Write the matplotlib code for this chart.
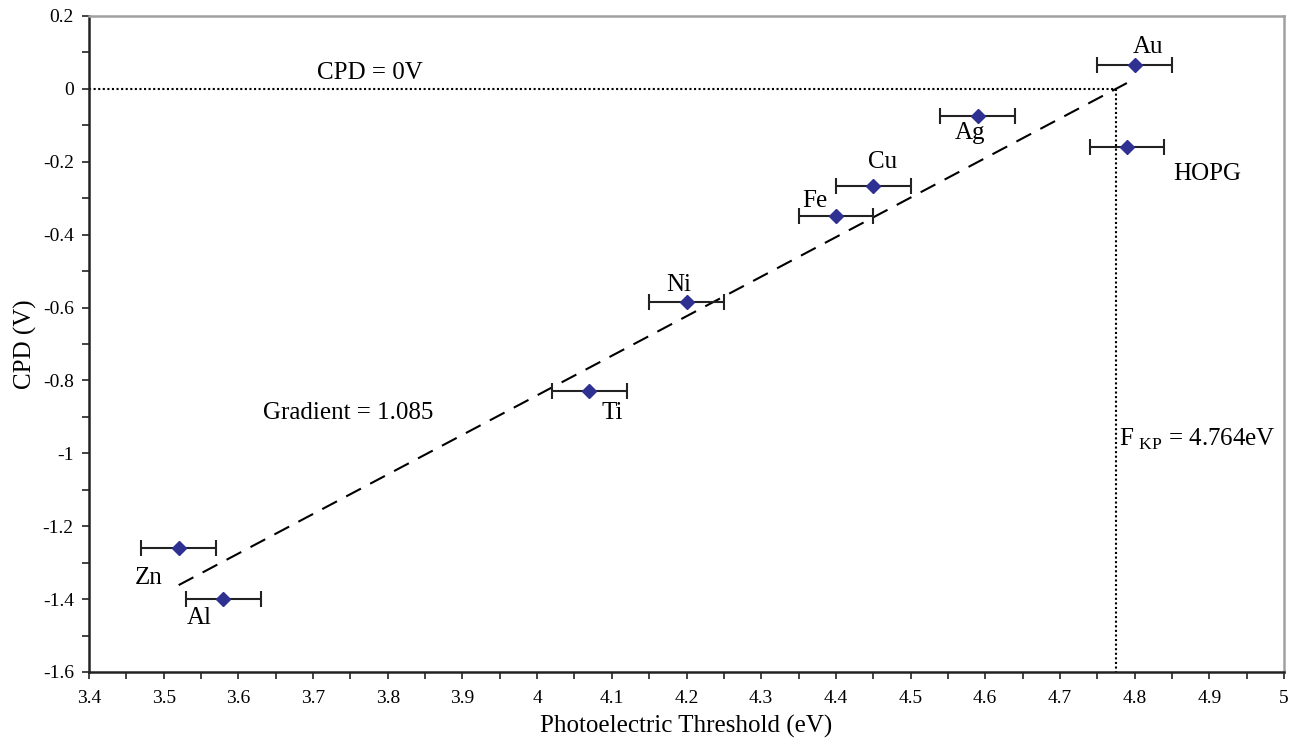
import matplotlib
matplotlib.use("Agg")
import numpy as np
import matplotlib.pyplot as plt
from matplotlib.ticker import MultipleLocator, FuncFormatter

# 金属ごとの光電閾値と接触電位差
metals = ["Au", "Ag", "HOPG", "Cu", "Fe", "Ni", "Ti", "Zn", "Al"]
threshold = [4.80, 4.59, 4.79, 4.45, 4.40, 4.20, 4.07, 3.52, 3.58]
cpd = [0.065, -0.075, -0.16, -0.267, -0.35, -0.586, -0.83, -1.26, -1.40]
threshold_err = [0.05, 0.05, 0.05, 0.05, 0.05, 0.05, 0.05, 0.05, 0.05]

# ラベル位置（データ座標）
label_x = [4.818, 4.579, 4.897, 4.462, 4.372, 4.190, 4.100, 3.480, 3.547]
label_y = [0.115, -0.121, -0.234, -0.201, -0.308, -0.538, -0.889, -1.342, -1.452]

# フィット直線
gradient = 1.085
x_zero = 4.775
fit_range = [3.52, 4.80]

plt.rcParams['font.family'] = ['Liberation Serif', 'DejaVu Serif']
plt.rcParams['mathtext.fontset'] = 'custom'
plt.rcParams['mathtext.rm'] = 'Liberation Serif'

fig = plt.figure(figsize=(12.98, 7.53), dpi=100)
ax = fig.add_axes([0.0686, 0.1076, 0.9206, 0.8712])

# CPD = 0 の補助線
ax.plot([3.4, x_zero], [0, 0], color='black', linestyle=(0, (1, 1.2)), linewidth=1.5)
ax.plot([x_zero, x_zero], [0, -1.6], color='black', linestyle=(0, (1, 1.2)), linewidth=1.5)

fx = np.array(fit_range)
ax.plot(fx, gradient * (fx - x_zero), color='black', linestyle=(0, (8, 5)), linewidth=1.5)

ax.errorbar(threshold, cpd, xerr=threshold_err, fmt='D', color='#2e3192',
            markersize=7, ecolor='#222222', elinewidth=1.5, capsize=6,
            capthick=1.5, zorder=3)

for name, lx, ly in zip(metals, label_x, label_y):
    ax.text(lx, ly, name, fontsize=18, ha='center', va='center')

ax.text(3.776, 0.044, "CPD = 0V", fontsize=18, ha='center', va='center')
ax.text(3.747, -0.889, "Gradient = 1.085", fontsize=18, ha='center', va='center')
ax.text(4.779, -0.963, r"F$_{\mathrm{\ KP}}$ = 4.764eV", fontsize=18, ha='left', va='center')

ax.set_xlim(3.4, 5.0)
ax.set_ylim(-1.6, 0.2)
ax.xaxis.set_major_locator(MultipleLocator(0.1))
ax.xaxis.set_minor_locator(MultipleLocator(0.05))
ax.yaxis.set_major_locator(MultipleLocator(0.2))
ax.yaxis.set_minor_locator(MultipleLocator(0.1))
fmt = FuncFormatter(lambda v, p: "%g" % round(v, 2) if abs(v) > 1e-9 else "0")
ax.xaxis.set_major_formatter(fmt)
ax.yaxis.set_major_formatter(fmt)
ax.tick_params(which='both', direction='out', length=5, width=1.2, labelsize=14, color='#222222')
ax.tick_params(axis='x', pad=8)
ax.tick_params(axis='y', pad=6)

for side in ['left', 'bottom']:
    ax.spines[side].set_linewidth(1.8)
    ax.spines[side].set_color('#222222')
for side in ['top', 'right']:
    ax.spines[side].set_linewidth(1.8)
    ax.spines[side].set_color('#a0a0a0')

ax.set_xlabel("Photoelectric Threshold (eV)", fontsize=18, labelpad=6)
ax.set_ylabel("CPD (V)", fontsize=18, labelpad=4)

fig.savefig("out.png", dpi=100)
